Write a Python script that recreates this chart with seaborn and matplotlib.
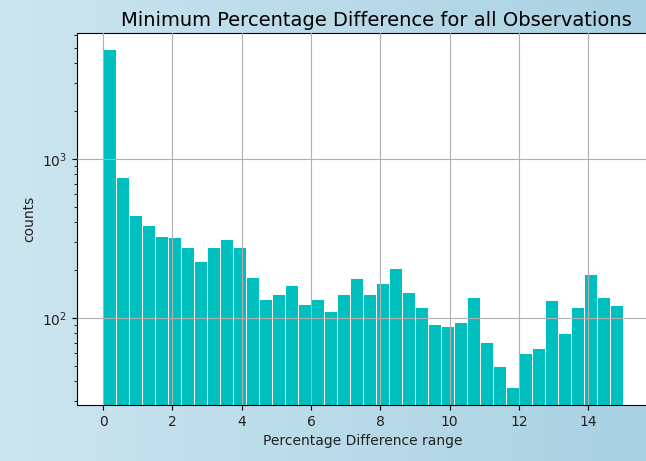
import numpy as np
import pandas as pd
import seaborn as sns
import matplotlib.pyplot as plt
from matplotlib.colors import LinearSegmentedColormap

# 40 bins of equal width between 0 and 15
bin_edges = list(np.linspace(0, 15, 41))
counts = [4950, 767, 446, 383, 329, 322, 279, 228, 279, 314,
          279, 182, 132, 142, 161, 122, 132, 111, 142, 178,
          142, 165, 207, 146, 117, 92, 89, 94, 136, 71,
          50, 37, 60, 65, 129, 81, 117, 188, 136, 120]

centers = [(a + b) / 2 for a, b in zip(bin_edges[:-1], bin_edges[1:])]
df = pd.DataFrame({"pct_diff": centers, "counts": counts})

fig = plt.figure(figsize=(6.46, 4.61), dpi=100)

# light blue gradient behind the figure
bg = fig.add_axes([0, 0, 1, 1], zorder=-10)
grad = np.linspace(0, 1, 256).reshape(1, -1)
cmap = LinearSegmentedColormap.from_list("bg", ["#cce5ef", "#a9d1e3"])
bg.imshow(grad, aspect="auto", cmap=cmap, extent=[0, 1, 0, 1])
bg.axis("off")

ax = fig.add_axes([0.1192, 0.1215, 0.8854, 0.8069])
sns.histplot(data=df, x="pct_diff", weights="counts", bins=bin_edges,
             color="c", edgecolor="white", linewidth=0.7, alpha=1.0, ax=ax)
ax.set_yscale("log")
ax.set_xlim(-0.75, 15.75)
ax.set_ylim(28.4, 6200)
ax.set_xticks([0, 2, 4, 6, 8, 10, 12, 14])
ax.grid(True, color="#b0b0b0", linewidth=0.8)
ax.set_axisbelow(False)
for b in ax.patches:
    b.set_zorder(1)
ax.set_title("Minimum Percentage Difference for all Observations",
             fontsize=14, x=0.524, pad=5)
ax.set_xlabel("Percentage Difference range", color="#222222")
ax.set_ylabel("counts", color="#222222")
ax.tick_params(labelcolor="#222222")

fig.savefig("out.png", dpi=100)
